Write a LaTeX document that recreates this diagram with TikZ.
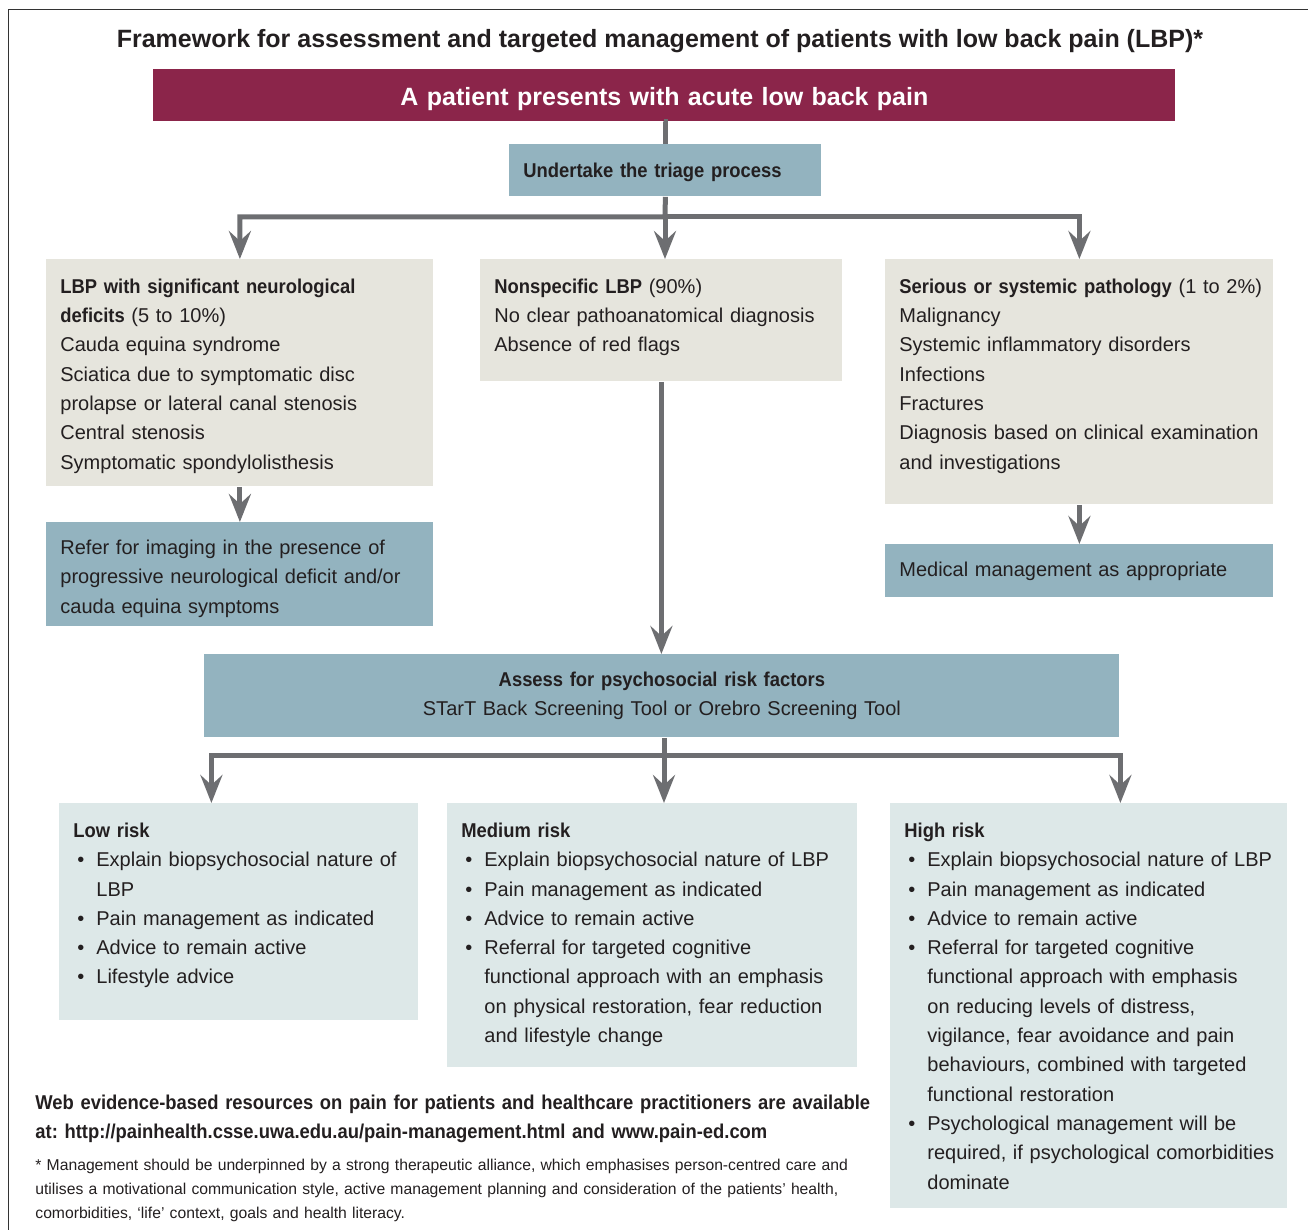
\documentclass[tikz,border=0pt]{standalone}
\usepackage{fontspec}
\setmainfont{Liberation Sans}
\newfontfamily\headfont{Liberation Sans}[FakeStretch=0.92]
\usepackage{xcolor}
\usepackage{tikz}
\usetikzlibrary{positioning, arrows.meta}

\definecolor{lbpred}{HTML}{8B254A}
\definecolor{lbpblue}{HTML}{93B3BF}
\definecolor{lbpbeige}{HTML}{E6E5DD}
\definecolor{lbplight}{HTML}{DDE8E8}
\definecolor{lbpgray}{HTML}{6D6E71}
\definecolor{lbptext}{HTML}{231F20}
\setlength{\parindent}{0pt}
\frenchspacing
\hyphenpenalty=10000
\newcommand{\hd}[1]{{\headfont\bfseries #1}}
\newcommand{\bpt}{\par\hangindent=11.5pt\hangafter=1\makebox[11.5pt][l]{\hspace{2pt}\textbullet}}

\begin{document}
\begin{tikzpicture}[
  x=0.5pt, y=-0.5pt,
  font=\fontsize{10}{14.65}\selectfont, text=lbptext,
  box/.style={rectangle, anchor=north west, inner xsep=7pt, inner ysep=0pt,
              align=left, text height=17pt},
  beige/.style={box, fill=lbpbeige},
  blue/.style={box, fill=lbpblue, text height=16pt},
  light/.style={box, fill=lbplight},
  conn/.style={draw=lbpgray, line width=2.5pt},
  arr/.style={conn, -{Stealth[length=14pt, width=11pt, inset=5pt]}},
]
\useasboundingbox (0,0) rectangle (1308,1230);
\draw[draw=black!80, line width=0.75pt] (8.5,1230) |- (1308,9.5);
%% Title and start
\node[anchor=base, font=\fontsize{12.5}{15}\selectfont\bfseries] at (660,48) (title)
  {Framework for assessment and targeted management of patients with low back pain (LBP)*};
\node[box, fill=lbpred, text=white, align=center, text width=497pt, text height=18pt,
      text depth=8pt, font=\fontsize{12.5}{15}\selectfont\bfseries] at (153,69) (start)
  {A patient presents with acute low back pain};
\node[blue, text width=142pt, text height=16.5pt, text depth=9.5pt] at (509,144) (triage)
  {\hd{Undertake the triage process}};
\draw[conn] (start.south) -- (triage.south |- start.south) -- (triage.north);
%% Triage outcomes
\node[beige, text width=179.5pt, text depth=96.5pt] at (46,259) (neuro)
  {\hd{LBP with significant neurological}\\
   \hd{deficits} (5 to 10\%)\\
   Cauda equina syndrome\\
   Sciatica due to symptomatic disc\\
   prolapse or lateral canal stenosis\\
   Central stenosis\\
   Symptomatic spondylolisthesis};
\node[beige, text width=167pt, text depth=44pt] at (480,259) (nonspec)
  {\hd{Nonspecific LBP} (90\%)\\
   No clear pathoanatomical diagnosis\\
   Absence of red flags};
\node[beige, text width=180pt, text depth=105.5pt] at (885,259) (serious)
  {\mbox{\hd{Serious or systemic pathology} (1 to 2\%)}\\
   Malignancy\\
   Systemic inflammatory disorders\\
   Infections\\
   Fractures\\
   Diagnosis based on clinical examination\\
   and investigations};
\coordinate (tj) at (665,217);
\draw[arr] (triage.south) -- (tj) -| (neuro.north);
\draw[arr] (tj) -| (serious.north);
\draw[arr] (tj) -- (tj |- nonspec.north);
%% Follow-up
\node[blue, text width=179.5pt, text depth=36pt] at (46,522) (refer)
  {Refer for imaging in the presence of\\
   progressive neurological deficit and/or\\
   cauda equina symptoms};
\node[blue, text width=180pt, text depth=10.5pt] at (885,544) (medical)
  {Medical management as appropriate};
\draw[arr] (neuro.south) -- (refer.north);
\draw[arr] (serious.south) -- (medical.north);
%% Psychosocial screening
\node[blue, align=center, text width=443.5pt, text depth=25.5pt] at (204,654) (assess)
  {\hd{Assess for psychosocial risk factors}\\
   STarT Back Screening Tool or Orebro Screening Tool};
\draw[arr] (nonspec.south) -- (nonspec.south |- assess.north);
%% Risk groups
\node[light, text width=165.5pt, text depth=91.5pt] at (59,803) (low)
  {\hd{Low risk}
   \bpt Explain biopsychosocial nature of\newline LBP
   \bpt Pain management as indicated
   \bpt Advice to remain active
   \bpt Lifestyle advice\par};
\node[light, text width=191pt, text depth=115pt] at (447,803) (medium)
  {\hd{Medium risk}
   \bpt Explain biopsychosocial nature of LBP
   \bpt Pain management as indicated
   \bpt Advice to remain active
   \bpt Referral for targeted cognitive\newline
        functional approach with an emphasis\newline
        on physical restoration, fear reduction\newline
        and lifestyle change\par};
\node[light, text width=184.5pt, text depth=185.5pt] at (890,803) (high)
  {\hd{High risk}
   \bpt \mbox{Explain biopsychosocial nature of LBP}
   \bpt Pain management as indicated
   \bpt Advice to remain active
   \bpt Referral for targeted cognitive\newline
        functional approach with emphasis\newline
        on reducing levels of distress,\newline
        vigilance, fear avoidance and pain\newline
        behaviours, combined with targeted\newline
        functional restoration
   \bpt Psychological management will be\newline
        \mbox{required, if psychological comorbidities}\newline
        dominate\par};
\coordinate (aj) at (664,755);
\draw[arr] (aj |- assess.south) -- (aj) -| ([xshift=-13.75pt]low.north);
\draw[arr] (aj) -- (aj |- medium.north);
\draw[arr] (aj) -| ([xshift=15.75pt]high.north);
%% Notes
\node[anchor=north west, inner sep=0pt, align=left, text width=425pt, text height=17pt]
  at (35,1075) (web)
  {\hd{Web evidence-based resources on pain for patients and healthcare practitioners are available}\\
   \hd{at: http://painhealth.csse.uwa.edu.au/pain-management.html and www.pain-ed.com}};
\node[anchor=north west, inner sep=0pt, align=left, text width=425pt, text height=10pt,
      font=\fontsize{7.85}{12}\selectfont] at (35,1150) (note)
  {* Management should be underpinned by a strong therapeutic alliance, which emphasises person-centred care and\\
   utilises a motivational communication style, active management planning and consideration of the patients’ health,\\
   comorbidities, ‘life’ context, goals and health literacy.};
\end{tikzpicture}
\end{document}
